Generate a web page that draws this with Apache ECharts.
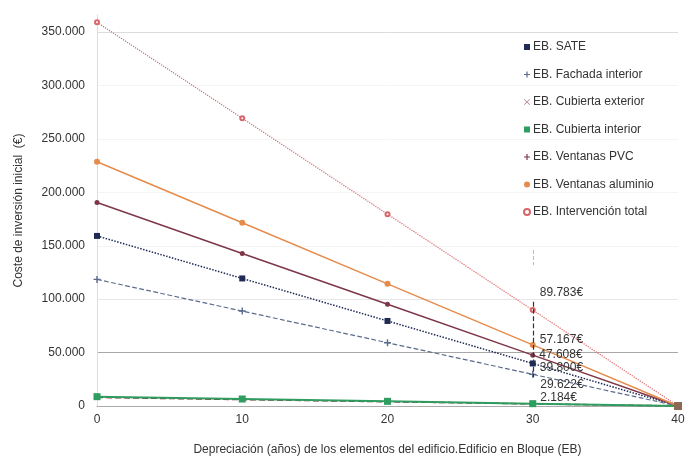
<!DOCTYPE html>
<html>
<head>
<meta charset="utf-8">
<script src="https://cdn.jsdelivr.net/npm/echarts@6/dist/echarts.min.js"></script>
<style>html,body{margin:0;padding:0;background:#fff}#c{width:690px;height:467px}</style>
</head>
<body>
<div id="c"></div>
<script>
var years = [0, 10, 20, 30, 40];
var seriesNames = ['EB. SATE','EB. Fachada interior','EB. Cubierta exterior','EB. Cubierta interior','EB. Ventanas PVC','EB. Ventanas aluminio','EB. Intervención total'];
var sate = [159200, 119400, 79600, 39800, 0];
var fachada = [118488, 88866, 59244, 29622, 0];
var cubExt = [8000, 6000, 4000, 2000, 0];
var cubInt = [8736, 6552, 4368, 2184, 0];
var pvc = [190432, 142824, 95216, 47608, 0];
var alu = [228668, 171501, 114334, 57167, 0];
var total = [359132, 269349, 179566, 89783, 0];
var yTicks = [0, 50000, 100000, 150000, 200000, 250000, 300000, 350000];
var errorBars = [[146000, 132000], [97500, 27000]];

function fmt(v){ return String(Math.round(v)).replace(/\B(?=(\d{3})+(?!\d))/g, '.'); }

var plusPath = 'path://M0,4h10v2h-10z M4,0h2v10h-2z';
var xPath = 'path://M1,0L5,4L9,0L10,1L6,5L10,9L9,10L5,6L1,10L0,9L4,5L0,1z';

function mk(vals, labelOffset, showLab){
  return vals.map(function(v, i){
    var d = {value: [years[i], v]};
    if (i === 3 && showLab) {
      d.label = {show: true, position: 'right', distance: 4, offset: labelOffset,
        formatter: function(p){ return fmt(p.value[1]) + '€'; },
        fontSize: 12, color: '#333', fontFamily: 'Liberation Sans'};
    }
    if (i === 4) { d.itemStyle = {color: '#8a6a55', borderColor: '#8a6a55'}; d.symbol = 'rect'; d.symbolSize = 7; }
    return d;
  });
}

var chart = echarts.init(document.getElementById('c'));
chart.setOption({
  animation: false,
  textStyle: {fontFamily: 'Liberation Sans'},
  grid: {left: 97, right: 12, top: 15, bottom: 61},
  legend: {
    orient: 'vertical', left: 518, top: 36, itemGap: 15.5, itemWidth: 6, itemHeight: 6,
    textStyle: {fontSize: 12, color: '#333', fontFamily: 'Liberation Sans', padding: [0, 0, 0, -2]},
    data: [
      {name: seriesNames[0], icon: 'rect'},
      {name: seriesNames[1], icon: plusPath},
      {name: seriesNames[2], icon: xPath},
      {name: seriesNames[3], icon: 'rect'},
      {name: seriesNames[4], icon: plusPath},
      {name: seriesNames[5], icon: 'circle'},
      {name: seriesNames[6], icon: 'emptyCircle'}
    ]
  },
  xAxis: {
    type: 'value', min: 0, max: 40, interval: 10,
    name: 'Depreciación (años) de los elementos del edificio.Edificio en Bloque (EB)',
    nameLocation: 'middle', nameGap: 38,
    nameTextStyle: {fontSize: 12, color: '#333'},
    axisLine: {lineStyle: {color: '#aaa'}},
    axisTick: {show: false},
    splitLine: {show: false},
    axisLabel: {fontSize: 12, color: '#333', margin: 8}
  },
  yAxis: {
    type: 'value', min: 0, max: 366000, interval: 50000,
    name: 'Coste de inversión inicial  (€)',
    nameLocation: 'middle', nameGap: 72, nameRotate: 90,
    nameTextStyle: {fontSize: 12, color: '#333'},
    axisLine: {show: true, lineStyle: {color: '#ddd'}},
    axisTick: {show: false},
    axisLabel: {fontSize: 12, color: '#333', margin: 12,
      formatter: function(v){ return yTicks.indexOf(v) >= 0 ? fmt(v) : ''; }},
    splitLine: {show: true, showMaxLine: false,
      lineStyle: {color: ['#e0e0e0', '#a8a8a8', '#e6e6e6', '#f4f4f4', '#f4f4f4', '#f4f4f4', '#f4f4f4', '#dcdcdc']}}
  },
  series: [
    {name: seriesNames[0], type: 'line', data: mk(sate, [0, 4], true), symbol: 'rect', symbolSize: 6,
      color: '#1f2a55', lineStyle: {type: 'dotted', width: 1.5},
      markLine: {silent: true, symbol: 'none', label: {show: false},
        data: [
          [{coord: [30, errorBars[0][0]], lineStyle: {color: '#bbb', type: 'dashed', width: 1}}, {coord: [30, errorBars[0][1]]}],
          [{coord: [30, errorBars[1][0]], lineStyle: {color: '#333', type: 'dashed', width: 1.2}}, {coord: [30, errorBars[1][1]]}]
        ]}},
    {name: seriesNames[1], type: 'line', data: mk(fachada, [0, 10], true), symbol: plusPath, symbolSize: 7,
      color: '#5b6b8c', lineStyle: {type: 'dashed', width: 1.2}},
    {name: seriesNames[2], type: 'line', data: mk(cubExt, [0, 0], false), symbol: xPath, symbolSize: 5,
      color: '#b08890', lineStyle: {type: 'dashed', width: 1.5, color: '#8a2c3c'}},
    {name: seriesNames[3], type: 'line', data: mk(cubInt, [0, -6], true), symbol: 'rect', symbolSize: 7,
      color: '#2f9d60', lineStyle: {width: 2}},
    {name: seriesNames[4], type: 'line', data: mk(pvc, [0, 0], true), symbol: 'circle', symbolSize: 5,
      color: '#7d3748', lineStyle: {width: 1.5}},
    {name: seriesNames[5], type: 'line', data: mk(alu, [0, -5], true), symbol: 'circle', symbolSize: 6,
      color: '#e58c4c', lineStyle: {width: 1.5}},
    {name: seriesNames[6], type: 'line', data: mk(total, [0, -17], true), symbol: 'emptyCircle', symbolSize: 4,
      itemStyle: {borderWidth: 1}, color: '#d9666a', lineStyle: {type: 'dotted', width: 1.2}}
  ]
});
</script>
</body>
</html>
